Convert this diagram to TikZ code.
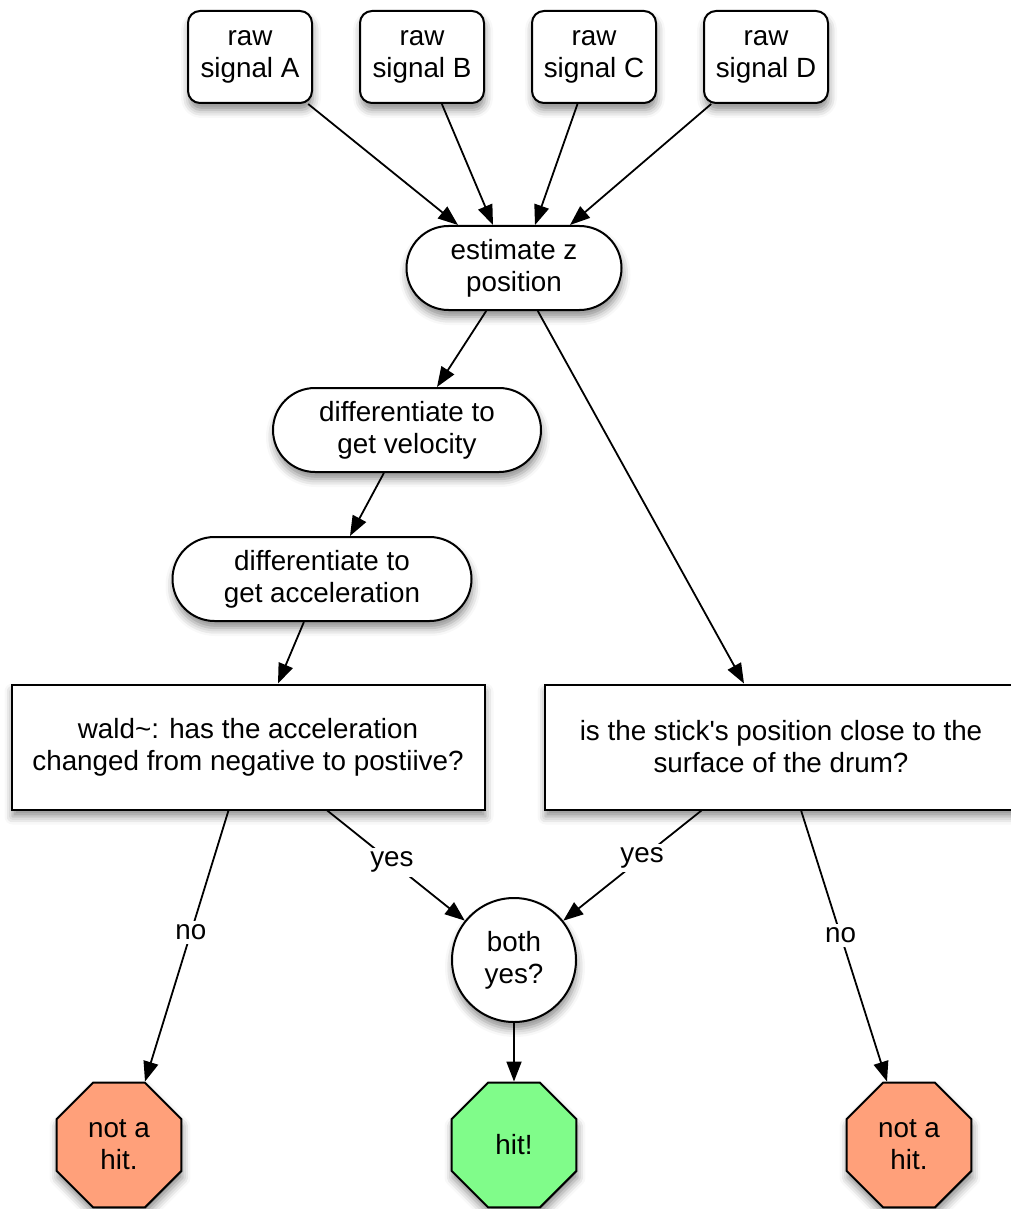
\documentclass[tikz,border=0pt]{standalone}
\usepackage{fontspec}
\setmainfont{Liberation Sans}
\usetikzlibrary{arrows.meta,shapes.geometric,shapes.misc,calc,shadows.blur}

\definecolor{misscol}{RGB}{255,160,122}
\definecolor{hitcol}{RGB}{128,252,138}

\begin{document}
\begin{tikzpicture}[x=0.5pt,y=-0.5pt,
  every node/.style={font=\fontsize{13.9}{16}\selectfont,align=center},
  shade/.style={blur shadow={shadow xshift=0.5pt,shadow yshift=-3.5pt,shadow blur radius=4pt,shadow opacity=45}},
  sigbox/.style={draw,line width=1pt,fill=white,rounded corners=6pt,inner sep=0pt,
    minimum width=62pt,minimum height=46pt,shade},
  pill/.style={draw,line width=1pt,fill=white,rounded rectangle,inner sep=0pt,
    minimum height=42pt,shade},
  test/.style={draw,line width=1pt,fill=white,inner sep=0pt,
    minimum width=236.5pt,minimum height=62.5pt,shade},
  joint/.style={draw,line width=1pt,fill=white,circle,inner sep=0pt,minimum size=62pt,shade},
  stop/.style={draw,line width=1pt,regular polygon,regular polygon sides=8,
    inner sep=0pt,minimum size=67.6pt,shade},
  arr/.style={line width=0.9pt,-{Triangle[length=10pt,width=7.5pt]}},
  lbl/.style={fill=white,inner sep=2pt}]

\useasboundingbox (0,0) rectangle (1011,1209);

% ---- the four raw inputs
\node[sigbox] (sigA) at (250,57) {raw\\signal A};
\node[sigbox] (sigB) at (422,57) {raw\\signal B};
\node[sigbox] (sigC) at (594,57) {raw\\signal C};
\node[sigbox] (sigD) at (766,57) {raw\\signal D};

% ---- processing steps
\node[pill,minimum width=107.5pt] (est) at (514,268) {estimate z\\position};
\node[pill,minimum width=134pt] (vel) at (407,430) {differentiate to\\get velocity};
\node[pill,minimum width=149.5pt] (acc) at (322,579) {differentiate to\\get acceleration};

% ---- the two tests
\node[test] (wald) at (248,747) {wald\textasciitilde: has the acceleration\\changed from negative to postiive?};
\node[test] (stick) at (781,747) {is the stick\textquotesingle s position close to the\\surface of the drum?};

% ---- decision and results
\node[joint] (both) at (514,960) {both\\yes?};
\node[stop,fill=misscol] (missL) at (119,1145) {not a\\hit.};
\node[stop,fill=hitcol] (hit) at (514,1145) {hit!};
\node[stop,fill=misscol] (missR) at (909,1145) {not a\\hit.};

% ---- signals into the estimate
\draw[arr] (sigA) -- ($(est.north)+(-56,0)$);
\draw[arr] (sigB) -- ($(est.north)+(-21,0)$);
\draw[arr] (sigC) -- ($(est.north)+(21,0)$);
\draw[arr] (sigD) -- ($(est.north)+(56,0)$);

% ---- down the chain
\draw[arr] (est) -- ($(vel.north)+(30,0)$);
\draw[arr] (est) -- ($(stick.north)+(-37,0)$);
\draw[arr] (vel) -- ($(acc.north)+(28,0)$);
\draw[arr] (acc) -- ($(wald.north)+(30,0)$);

% ---- answers
\draw[arr] (wald) -- node[lbl,pos=0.45] {no} ($(missL.north)+(26,0)$);
\draw[arr] (wald) -- node[lbl,pos=0.47] {yes} (both);
\draw[arr] (stick) -- node[lbl,pos=0.43] {yes} (both);
\draw[arr] (stick) -- node[lbl,pos=0.46] {no} ($(missR.north)+(-22,0)$);
\draw[arr] (both) -- (hit);
\end{tikzpicture}
\end{document}
